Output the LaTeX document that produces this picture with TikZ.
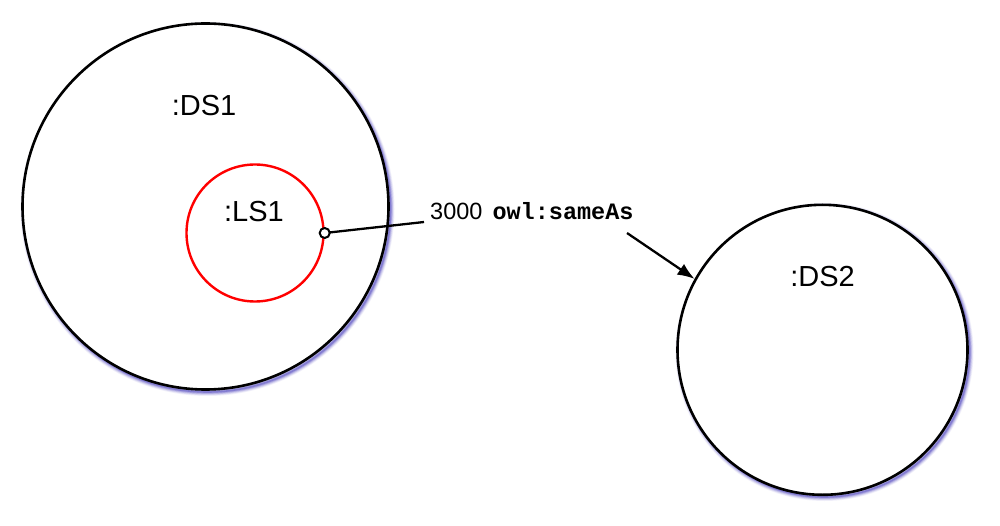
\documentclass[tikz,border=0pt]{standalone}
\usepackage{fontspec}
\setmainfont{Liberation Sans}
\setmonofont{Liberation Mono}
\usetikzlibrary{arrows.meta}
\definecolor{shadowblue}{RGB}{80,70,190}
\begin{document}
\begin{tikzpicture}[x=1pt,y=-1pt,
  bigset/.style={circle, draw=black, line width=2.6pt, fill=white, inner sep=0pt, minimum size=#1},
  redset/.style={circle, draw=red, line width=2.4pt, inner sep=0pt, minimum size=#1},
  glow/.style={draw=shadowblue, line width=#1},
  setlabel/.style={anchor=base, font=\fontsize{29}{34}\selectfont, inner sep=0pt},
  conn/.style={draw=black, line width=2.3pt},
  port/.style={circle, draw=black, fill=white, line width=2pt, inner sep=0pt, minimum size=10pt}
]
\useasboundingbox (0,0) rectangle (1000,526);
% glows
\foreach \r/\o in {5/0.08,4/0.12,3/0.18,2/0.26,1/0.40}{
  \draw[glow=\r*1.6pt, opacity=\o] (207.5,209) circle[radius=183];
  \draw[glow=\r*1.6pt, opacity=\o] (824.5,352) circle[radius=145];
}
\node[bigset=366pt] (ds1) at (205.5,206.5) {};
\node[bigset=290pt] (ds2) at (822.5,349.8) {};
\node[redset=137pt] (ls1) at (255,233) {};
\node[setlabel] (ds1lbl) at (204,116) {:DS1};
\node[setlabel] (ls1lbl) at (254,222) {:LS1};
\node[setlabel] (ds2lbl) at (822.5,287) {:DS2};
\node[anchor=base west, inner sep=0pt, font=\fontsize{23.5}{27}\selectfont] (lbl) at (430,220) {3000\hspace{0.15em} \texttt{\bfseries owl:sameAs}};
\coordinate (lblin) at (424,222);
\coordinate (arrstart) at (627,233);
\coordinate (portpos) at (ls1.0);
\draw[conn] (portpos) -- (lblin);
\node[port] (pt) at (portpos) {};
\draw[conn, -{Latex[length=17pt,width=13pt]}] (arrstart) -- (ds2.151);
\end{tikzpicture}
\end{document}
